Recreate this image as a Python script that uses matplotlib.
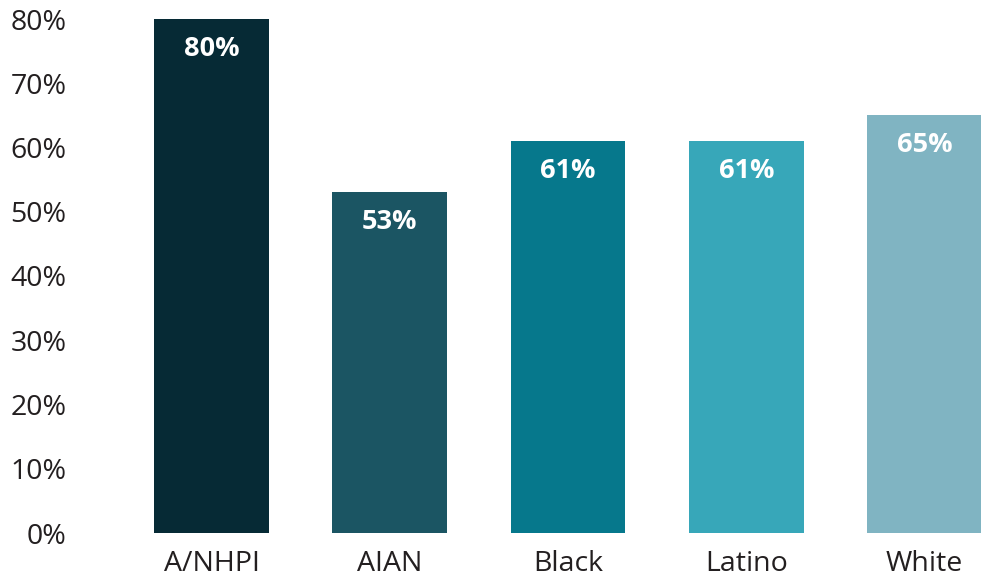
import matplotlib
matplotlib.use("Agg")
import matplotlib.pyplot as plt
from matplotlib.ticker import FuncFormatter, MultipleLocator

categories = ["A/NHPI", "AIAN", "Black", "Latino", "White"]
values = [80, 53, 61, 61, 65]
colors = ["#062A35", "#1B5563", "#06788C", "#37A7B9", "#80B4C2"]

plt.rcParams['font.family'] = ['Open Sans', 'DejaVu Sans']

W, H = 981, 576
fig = plt.figure(figsize=(W/100, H/100), dpi=100)
left_px, right_px = 75, 981
top_px, bot_px = 19, 533
ax = fig.add_axes([left_px/W, (H-bot_px)/H, (right_px-left_px)/W, (bot_px-top_px)/H])

x = list(range(len(categories)))
bars = ax.bar(x, values, width=0.645, color=colors)
for xi, v in zip(x, values):
    ax.annotate(f"{v}%", (xi, v), xytext=(0, -30), textcoords="offset pixels",
                ha="center", va="center", color="white", fontsize=19.5, fontweight="bold")

ax.set_xlim(-0.766, 4.317)
ax.set_ylim(0, 80)
ax.yaxis.set_major_locator(MultipleLocator(10))
ax.yaxis.set_major_formatter(FuncFormatter(lambda v, p: f"{int(v)}%"))
ax.set_xticks(x)
ax.set_xticklabels(categories)
ax.tick_params(axis="both", length=0, labelsize=20.5, colors="#231F20")
ax.tick_params(axis="y", pad=6)
ax.tick_params(axis="x", pad=12)
for s in ax.spines.values():
    s.set_visible(False)

fig.savefig("out.png", dpi=100)
